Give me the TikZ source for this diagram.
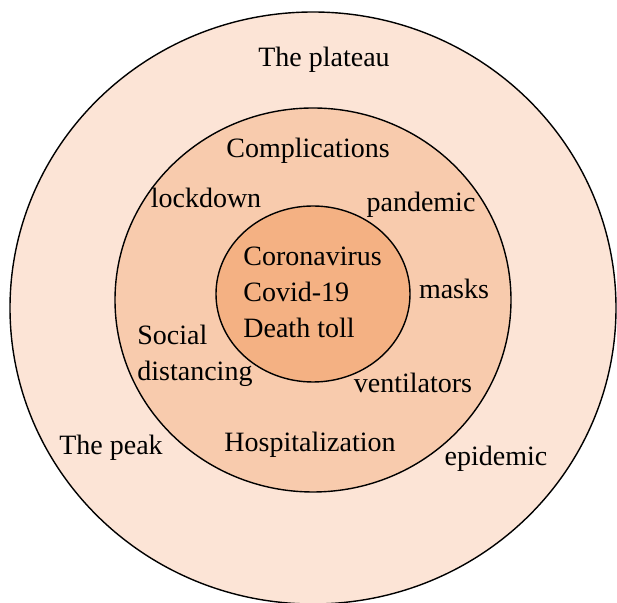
\documentclass[tikz,border=0pt]{standalone}
\usepackage{fontspec}
\setmainfont{Liberation Serif}
\usepackage{xcolor}
\definecolor{ringout}{HTML}{FCE4D6}
\definecolor{ringmid}{HTML}{F8CBAD}
\definecolor{ringin}{HTML}{F4B183}
\tikzset{
  ring/.style={draw=black, line width=0.7},
  word/.style={font=\fontsize{14}{18}\selectfont, inner sep=0pt, anchor=base},
  block/.style={font=\fontsize{14}{18}\selectfont, inner sep=0pt, align=left, anchor=west}
}
\begin{document}
\begin{tikzpicture}[x=0.5pt, y=-0.5pt]

\useasboundingbox (0,0) rectangle (617,603);
\clip (0,0) rectangle (617,603);

% Rings
\draw[ring, fill=ringout] (313,308) ellipse [x radius=303, y radius=296];
\draw[ring, fill=ringmid] (313,300) ellipse [x radius=198, y radius=192];
\draw[ring, fill=ringin] (313,294) ellipse [x radius=97, y radius=88];

% Outer ring labels
\node[word] (plateau) at (324,67) {The plateau};
\node[word] (peak) at (111,455) {The peak};
\node[word] (epidemic) at (496,466) {epidemic};

% Middle ring labels
\node[word] (complications) at (308,158) {Complications};
\node[word] (lockdown) at (206,208) {lockdown};
\node[word] (pandemic) at (421,212) {pandemic};
\node[word] (masks) at (454,299) {masks};
\node[block] (social) at (137,356) {Social\\distancing};
\node[word] (ventilators) at (413,393) {ventilators};
\node[word] (hospital) at (310,452) {Hospitalization};

% Core labels
\node[block] (core) at (243,292.5) {Coronavirus\\Covid-19\\Death toll};

\end{tikzpicture}
\end{document}
